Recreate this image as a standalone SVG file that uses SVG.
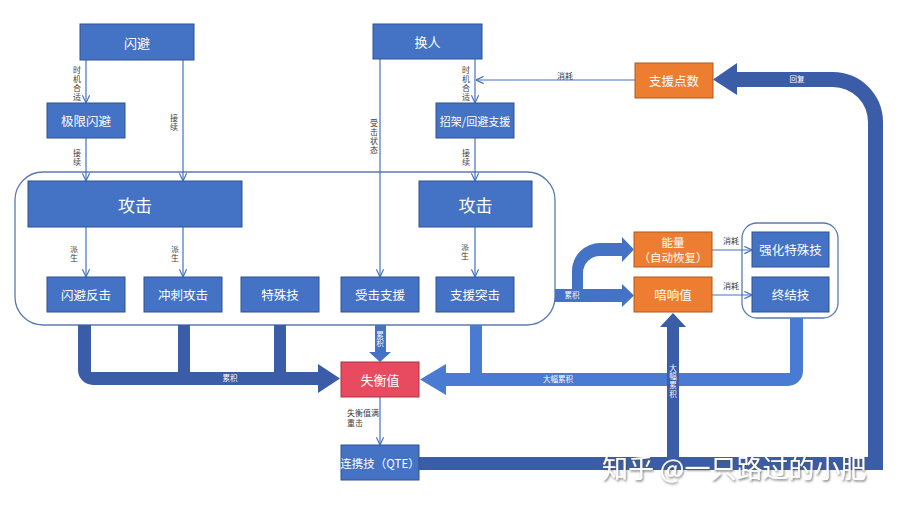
<svg xmlns="http://www.w3.org/2000/svg" width="900" height="506" viewBox="0 0 900 506">
<defs>
<style>
.n{fill:#4472C4;stroke:#2F528F;stroke-width:1}
.o{fill:#ED7D31;stroke:#AE5A21;stroke-width:1}
.r{fill:#E84A5F;stroke:#A83244;stroke-width:1}
.t{font-family:"Noto Sans CJK SC","Noto Sans",sans-serif;fill:#fff;text-anchor:middle;dominant-baseline:central}
.l{font-family:"Noto Sans CJK SC","Noto Sans",sans-serif;fill:#404040;font-size:8px;text-anchor:middle}
.v{font-family:"Noto Sans CJK SC","Noto Sans",sans-serif;fill:#404040;font-size:8px;writing-mode:vertical-rl;text-orientation:upright;text-anchor:start;letter-spacing:1px}
.vw{font-family:"Noto Sans CJK SC","Noto Sans",sans-serif;fill:#fff;font-size:7.5px;writing-mode:vertical-rl;text-orientation:upright;text-anchor:start;letter-spacing:1.2px}
.w{font-family:"Noto Sans CJK SC","Noto Sans",sans-serif;fill:#fff;font-size:7.5px;text-anchor:middle}
.c{fill:none;stroke:#4472C4;stroke-width:1.2}
.box{fill:none;stroke:#5B7AB0;stroke-width:1.3}
.dk{fill:#3B5CA6}
.md{fill:#4472C4}
.lt{fill:#4A7BD3}
</style>
<marker id="a" viewBox="0 0 10 10" refX="9.5" refY="5" markerWidth="9" markerHeight="9" orient="auto" markerUnits="userSpaceOnUse">
<path d="M1,1 L9.5,5 L1,9" fill="none" stroke="#4472C4" stroke-width="1.3"/>
</marker>
<filter id="sh" x="-5%" y="-20%" width="110%" height="140%">
<feDropShadow dx="1" dy="1.5" stdDeviation="1" flood-color="#555" flood-opacity="0.8"/>
</filter>
</defs>
<rect width="900" height="506" fill="#fff"/>

<!-- containers -->
<rect class="box" x="15" y="172" width="540" height="153" rx="28"/>
<rect class="box" x="742" y="223" width="96" height="95" rx="15"/>

<g id="connectors">
<!-- thick arrows -->
<path class="lt" d="M790,318 H803 V371 A15,15 0 0 1 788,386 H446 V395 L420,379.5 L446,364 V373 H790 Z"/>
<rect class="lt" x="470" y="325" width="12" height="49"/>
<path class="dk" d="M78,325 H91 V372 H318 V364 L340,378.5 L318,393 V385 H93 A15,15 0 0 1 78,370 Z"/>
<rect class="dk" x="178" y="325" width="12" height="48"/>
<rect class="dk" x="274" y="325" width="12" height="48"/>
<path class="md" d="M375,325 H386 V352 H391 L380,362 L369,352 H375 Z"/>
<path class="dk" d="M419,457 H868 V122 A35,35 0 0 0 833,87 H737 V95 L713,79.5 L737,63 V72 H833 A50,50 0 0 1 883,122 V470 H419 Z"/>
<path class="dk" d="M667,457 V327 H660 L673,313 L686,327 H679 V457 Z"/>
<path class="md" d="M555,289 H622 V284 L634,295.5 L622,307 V302 H555 Z"/>
<path class="md" d="M572,290 V271 A28,28 0 0 1 600,243 H622 V237 L634,249.5 L622,262 V256 H600 A17,17 0 0 0 583,273 V290 Z"/>

<!-- thin connectors -->
<path class="c" d="M86,60 V103" marker-end="url(#a)"/>
<path class="c" d="M183,60 V181" marker-end="url(#a)"/>
<path class="c" d="M86,138 V181" marker-end="url(#a)"/>
<path class="c" d="M86,227 V277" marker-end="url(#a)"/>
<path class="c" d="M183,227 V277" marker-end="url(#a)"/>
<path class="c" d="M380,59 V277" marker-end="url(#a)"/>
<path class="c" d="M475,59 V103" marker-end="url(#a)"/>
<path class="c" d="M635,80 H476" marker-end="url(#a)"/>
<path class="c" d="M475,138 V181" marker-end="url(#a)"/>
<path class="c" d="M475,227 V277" marker-end="url(#a)"/>
<path class="c" d="M712,250 H752" marker-end="url(#a)"/>
<path class="c" d="M712,295 H752" marker-end="url(#a)"/>
<path class="c" d="M380,397 V445" marker-end="url(#a)"/>

<!-- connector labels -->
<text class="v" x="77" y="66">时机合适</text>
<text class="v" x="174" y="114">接续</text>
<text class="v" x="77" y="149">接续</text>
<text class="v" x="74" y="245">派生</text>
<text class="v" x="175" y="245">派生</text>
<text class="v" x="465" y="243">派生</text>
<text class="v" x="374" y="119">受击状态</text>
<text class="v" x="466" y="66">时机合适</text>
<text class="v" x="466" y="149">接续</text>
<text class="l" x="565" y="79">消耗</text>
<text class="l" x="731" y="244">消耗</text>
<text class="l" x="731" y="289">消耗</text>
<text class="l" x="347" y="416" style="text-anchor:start">失衡值满</text>
<text class="l" x="347" y="426" style="text-anchor:start">重击</text>
<text class="w" x="230" y="381">累积</text>
<text class="vw" x="380" y="331">累积</text>
<text class="w" x="558" y="382">大幅累积</text>
<text class="vw" x="673" y="364">大幅累积</text>
<text class="w" x="572" y="298">累积</text>
<text class="w" x="797" y="82">回复</text>
</g>

<g id="n-shanbi"><rect class="n" x="80" y="24" width="114" height="36"/><text class="t" x="137" y="42" font-size="13">闪避</text></g>
<g id="n-jixian"><rect class="n" x="47" y="103" width="78" height="35"/><text class="t" x="86" y="120.5" font-size="12.5">极限闪避</text></g>
<g id="n-huanren"><rect class="n" x="373" y="24" width="109" height="35"/><text class="t" x="427.5" y="41.5" font-size="13">换人</text></g>
<g id="n-zhaojia"><rect class="n" x="436" y="103" width="78" height="35"/><text class="t" x="475" y="120.5" font-size="11">招架/回避支援</text></g>
<g id="n-zhiyuandian"><rect class="o" x="635" y="63" width="78" height="35"/><text class="t" x="674" y="80.5" font-size="12.5">支援点数</text></g>
<g id="n-gongji1"><rect class="n" x="28" y="181" width="214" height="46"/><text class="t" x="135" y="204" font-size="17">攻击</text></g>
<g id="n-gongji2"><rect class="n" x="419" y="181" width="113" height="46"/><text class="t" x="475.5" y="204" font-size="17">攻击</text></g>
<g id="n-fanji"><rect class="n" x="47" y="277" width="78" height="35"/><text class="t" x="86" y="294.5" font-size="12.5">闪避反击</text></g>
<g id="n-chongci"><rect class="n" x="144" y="277" width="78" height="35"/><text class="t" x="183" y="294.5" font-size="12.5">冲刺攻击</text></g>
<g id="n-teshu"><rect class="n" x="241" y="277" width="78" height="35"/><text class="t" x="280" y="294.5" font-size="12.5">特殊技</text></g>
<g id="n-shouji"><rect class="n" x="341" y="277" width="78" height="35"/><text class="t" x="380" y="294.5" font-size="12.5">受击支援</text></g>
<g id="n-tuji"><rect class="n" x="436" y="277" width="78" height="35"/><text class="t" x="475" y="294.5" font-size="12.5">支援突击</text></g>
<g id="n-nengliang"><rect class="o" x="634" y="232" width="78" height="35"/><text class="t" x="673" y="242" font-size="11.5">能量<tspan x="673" dy="15">（自动恢复）</tspan></text></g>
<g id="n-yinxiang"><rect class="o" x="634" y="277" width="78" height="35"/><text class="t" x="673" y="294.5" font-size="12.5">喑响值</text></g>
<g id="n-qianghua"><rect class="n" x="752" y="232" width="77" height="35"/><text class="t" x="790.5" y="249.5" font-size="12.5">强化特殊技</text></g>
<g id="n-zhongjie"><rect class="n" x="752" y="277" width="77" height="35"/><text class="t" x="790.5" y="294.5" font-size="12.5">终结技</text></g>
<g id="n-shiheng"><rect class="r" x="341" y="362" width="78" height="35"/><text class="t" x="380" y="379.5" font-size="13">失衡值</text></g>
<g id="n-qte"><rect class="n" x="341" y="445" width="78" height="35"/><text class="t" x="380" y="462.5" font-size="11.5">连携技（QTE）</text></g>

<text x="602" y="478" font-family="Noto Sans CJK SC,sans-serif" font-size="26" fill="#fff" filter="url(#sh)">知乎 @一只路过的小肥</text>
</svg>
